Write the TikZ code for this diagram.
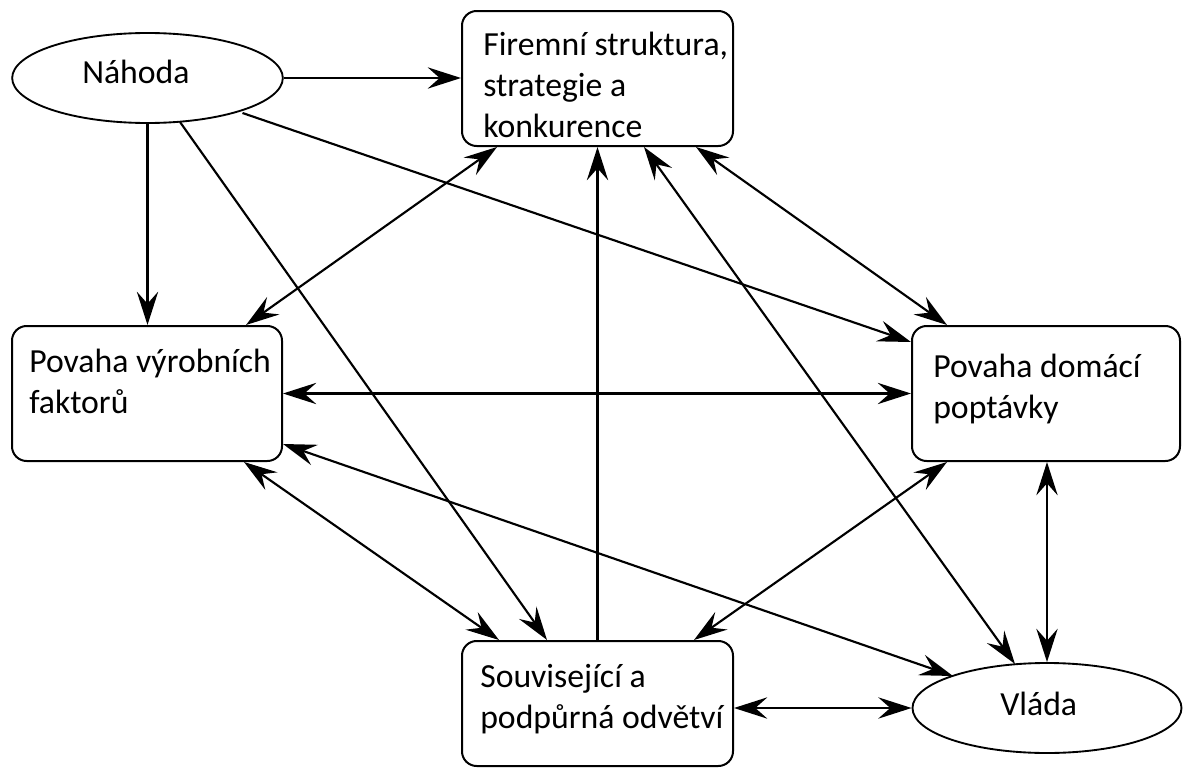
\documentclass[tikz,border=0pt]{standalone}
\usepackage{fontspec}
\setmainfont{Carlito}
\usetikzlibrary{arrows.meta,calc,shapes.geometric}
\begin{document}
\begin{tikzpicture}[x=0.75pt,y=-0.75pt,
  box/.style={draw, line width=1.5pt, rounded corners=11pt, inner sep=0pt},
  ell/.style={draw, ellipse, line width=1.4pt, inner sep=0pt, minimum width=203pt, minimum height=67.5pt},
  txt/.style={font=\fontsize{25.3}{30.75}\selectfont, align=left, inner sep=0pt, anchor=base west},
  con/.style={line width=1.6pt},
  tip/.tip={Stealth[length=25pt,width=16pt,inset=9pt]},
  a1/.style={con, -tip},
  a2/.style={con, tip-tip}]
\useasboundingbox (0,0) rectangle (1183,771);
\node[ell] (nah) at (147.5,78) {};
\node[box, minimum width=203.25pt, minimum height=101.25pt] (fir) at (597.5,78.5) {};
\node[box, minimum width=202.5pt, minimum height=101.25pt] (vyr) at (147,393.5) {};
\node[box, minimum width=201pt, minimum height=101.25pt] (dom) at (1046,393.5) {};
\node[box, minimum width=203.25pt, minimum height=93.75pt] (sou) at (597.5,703.5) {};
\node[ell, minimum width=201.75pt] (vla) at (1047,708) {};

\node[txt] (tnah) at (82,83) {Náhoda};
\node[txt] (tfir) at (483,137) {Firemní struktura,\\strategie a\\konkurence};
\node[txt] (tvyr) at (29,413) {Povaha výrobních\\faktorů};
\node[txt] (tdom) at (933,418) {Povaha domácí\\poptávky};
\node[txt] (tsou) at (480,728) {Související a\\podpůrná odvětví};
\node[txt] (tvla) at (1000,715) {Vláda};

\draw[a1] (nah.east) -- (nah.east -| fir.west);
\draw[a1] (nah.south) -- (nah.south |- vyr.north);
\draw[a1] ($(nah.center)+(95,35)$) -- ($(dom.north west)+(0,17)$);
\draw[a1] ($(nah.center)+(32.5,44)$) -- ($(sou.north west)+(86,0)$);
\draw[a2] ($(fir.south west)+(36,0)$) -- ($(vyr.north east)+(-37,0)$);
\draw[a2] ($(fir.south east)+(-38,0)$) -- ($(dom.north west)+(36,0)$);
\draw[a1] (sou.north) -- (fir.south);
\draw[a2] ($(fir.south west)+(183,0)$) -- ($(vla.center)+(-32,-44)$);
\draw[a2] (vyr.east) -- (vyr.east -| dom.west);
\draw[a2] ($(vyr.south east)+(0,-18)$) -- ($(vla.center)+(-94,-32)$);
\draw[a2] ($(vyr.south east)+(-39,0)$) -- ($(sou.north west)+(38,0)$);
\draw[a2] ($(dom.south west)+(36,0)$) -- ($(sou.north east)+(-40,0)$);
\draw[a2] (dom.south -| vla.north) -- (vla.north);
\draw[a2] (vla.west -| sou.east) -- (vla.west);
\end{tikzpicture}
\end{document}
